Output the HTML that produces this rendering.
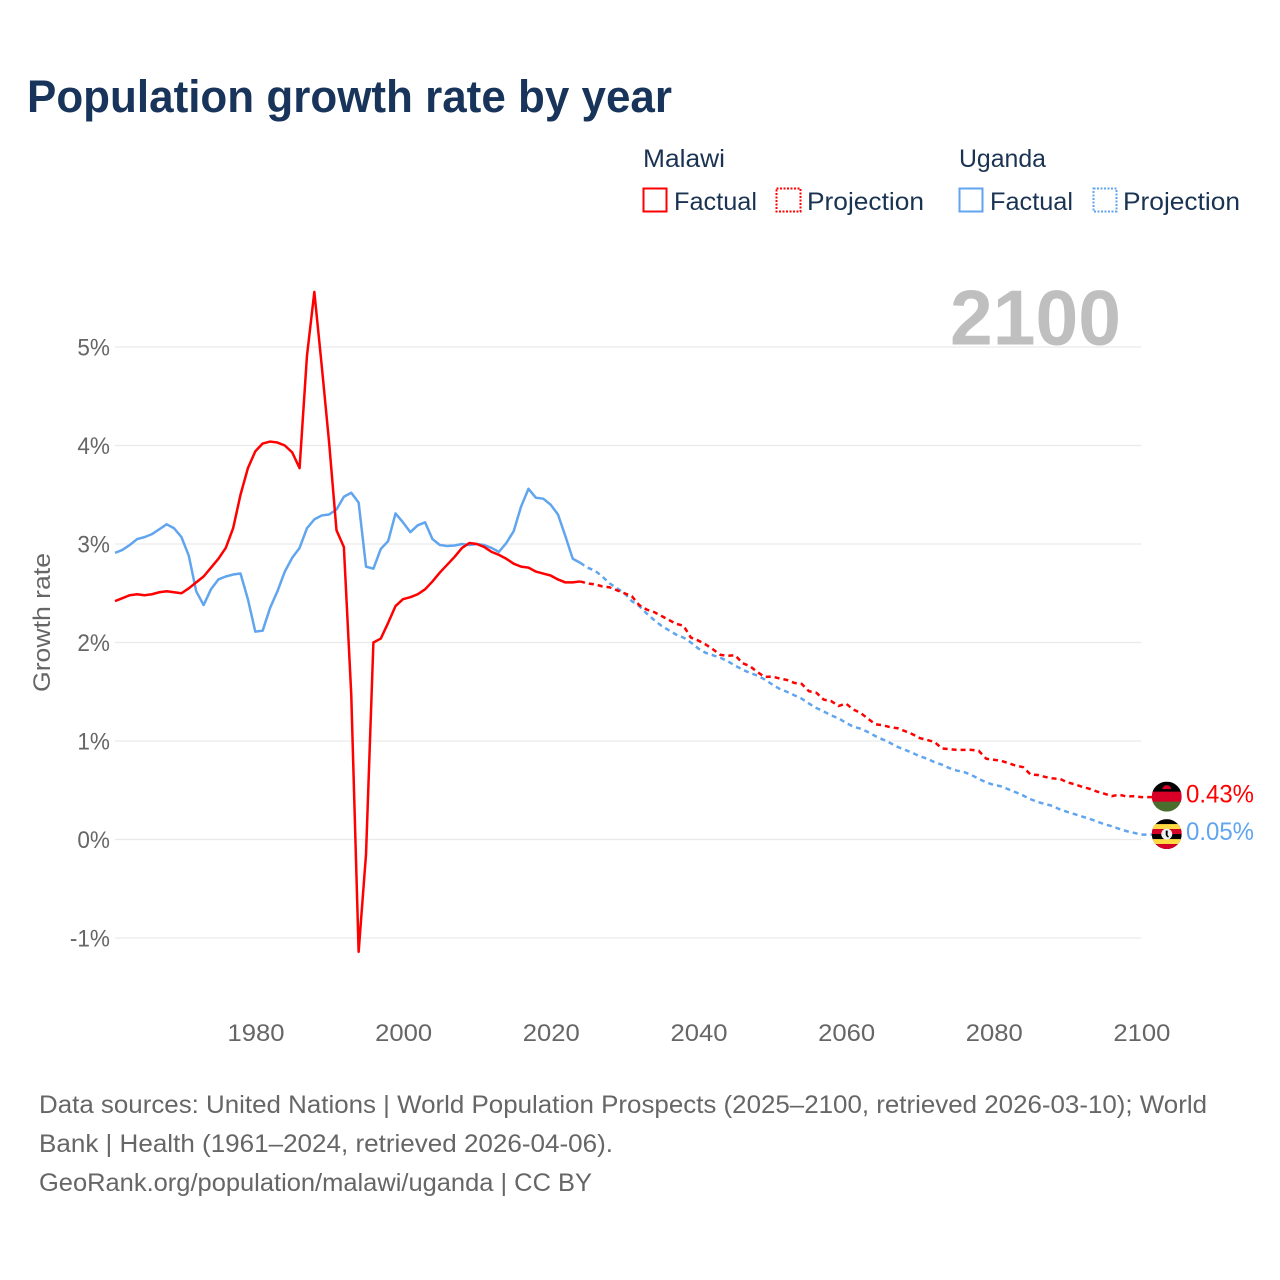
<!DOCTYPE html>
<html lang="en">
<head>
<meta charset="utf-8">
<title>Population growth rate by year</title>
<style>
  html, body { margin: 0; padding: 0; background: #fff; width: 1280px; height: 1280px; overflow: hidden; }
  svg { display: block; font-family: "Liberation Sans", sans-serif; }
</style>
</head>
<body>
<svg id="chart" width="1280" height="1280" viewBox="0 0 1280 1280">
  <defs>
    <clipPath id="flag-clip"><circle cx="0" cy="0" r="15"/></clipPath>
  </defs>
  <text x="27" y="112" font-size="45" font-weight="700" fill="#18345a" textLength="645" lengthAdjust="spacingAndGlyphs">Population growth rate by year</text>

  <g fill="#1a3352" font-size="25">
    <text x="643" y="167" textLength="82" lengthAdjust="spacingAndGlyphs">Malawi</text>
    <text x="959" y="167" textLength="87" lengthAdjust="spacingAndGlyphs">Uganda</text>
    <rect x="643.5" y="188.5" width="23" height="23" fill="none" stroke="#ff0000" stroke-width="2"/>
    <text x="674" y="210" textLength="83" lengthAdjust="spacingAndGlyphs">Factual</text>
    <rect x="776.5" y="188.5" width="24" height="23" fill="none" stroke="#ff0000" stroke-width="2" stroke-dasharray="2 1.5"/>
    <text x="807" y="210" textLength="117" lengthAdjust="spacingAndGlyphs">Projection</text>
    <rect x="959.5" y="188.5" width="23" height="23" fill="none" stroke="#60a5ee" stroke-width="2"/>
    <text x="990" y="210" textLength="83" lengthAdjust="spacingAndGlyphs">Factual</text>
    <rect x="1093.5" y="188.5" width="23" height="23" fill="none" stroke="#60a5ee" stroke-width="2" stroke-dasharray="2 1.5"/>
    <text x="1123" y="210" textLength="117" lengthAdjust="spacingAndGlyphs">Projection</text>
  </g>

  <g id="grid"></g>
  <g id="y-ticks" font-size="24.5" fill="#666666" text-anchor="end"></g>
  <g id="x-ticks" font-size="24" fill="#666666" text-anchor="middle"></g>

  <text x="0" y="0" transform="translate(50 622.5) rotate(-90)" text-anchor="middle" font-size="24" fill="#666666" textLength="139" lengthAdjust="spacingAndGlyphs">Growth rate</text>

  <text id="year-label" x="950" y="344.5" font-size="78" font-weight="700" fill="#bfbfbf" textLength="171" lengthAdjust="spacingAndGlyphs">2100</text>

  <g id="series"></g>

  <g id="flag-malawi" clip-path="url(#flag-clip)">
    <rect x="-15" y="-15" width="30" height="11" fill="#000000"/>
    <rect x="-15" y="-5" width="30" height="10.5" fill="#d80027"/>
    <rect x="-15" y="5" width="30" height="10" fill="#496e2d"/>
    <path d="M-4.5 -7.5 A4.5 4 0 0 1 4.5 -7.5 Z" fill="#d80027"/>
  </g>
  <g id="flag-uganda" clip-path="url(#flag-clip)">
    <rect x="-15" y="-15" width="30" height="30" fill="#000000"/>
    <rect x="-15" y="-10" width="30" height="5" fill="#ffda44"/>
    <rect x="-15" y="-5" width="30" height="5" fill="#d80027"/>
    <rect x="-15" y="5" width="30" height="5" fill="#ffda44"/>
    <rect x="-15" y="10" width="30" height="5" fill="#d80027"/>
    <circle cx="0" cy="0" r="5.5" fill="#f0f0f0"/>
    <path d="M-1 -3.5 L1 -3.5 L0.8 1 L2.5 3 L0.5 3.2 L-1 1 Z" fill="#000000"/>
  </g>
  <text id="end-label-malawi" x="1186" font-size="25" fill="#ff0000" textLength="68" lengthAdjust="spacingAndGlyphs"></text>
  <text id="end-label-uganda" x="1186" font-size="25" fill="#60a5ee" textLength="68" lengthAdjust="spacingAndGlyphs"></text>

  <g font-size="25" fill="#666666">
    <text x="39" y="1113" textLength="1168" lengthAdjust="spacingAndGlyphs">Data sources: United Nations | World Population Prospects (2025–2100, retrieved 2026-03-10); World</text>
    <text x="39" y="1152" textLength="574" lengthAdjust="spacingAndGlyphs">Bank | Health (1961–2024, retrieved 2026-04-06).</text>
    <text x="39" y="1191" textLength="553" lengthAdjust="spacingAndGlyphs">GeoRank.org/population/malawi/uganda | CC BY</text>
  </g>
</svg>

<script>
const firstFactualYear = 1961;
const firstProjectionYear = 2025;
const yTickValues = [-1, 0, 1, 2, 3, 4, 5];
const yTickLabels = ["-1%", "0%", "1%", "2%", "3%", "4%", "5%"];
const xTickYears = [1980, 2000, 2020, 2040, 2060, 2080, 2100];

const malawiFactual = [
  2.42,2.45,2.48,2.49,2.48,2.49,2.51,2.52,2.51,2.50,
  2.55,2.61,2.67,2.76,2.85,2.96,3.16,3.50,3.77,3.94,
  4.02,4.04,4.03,4.00,3.93,3.77,4.91,5.56,4.81,4.03,
  3.14,2.97,1.47,-1.14,-0.15,2.00,2.04,2.20,2.37,2.44,
  2.46,2.49,2.54,2.62,2.71,2.79,2.87,2.96,3.01,3.00,
  2.97,2.92,2.89,2.85,2.80,2.77,2.76,2.72,2.70,2.68,
  2.64,2.61,2.61,2.62
];
const ugandaFactual = [
  2.91,2.94,2.99,3.05,3.07,3.10,3.15,3.20,3.16,3.07,
  2.88,2.52,2.38,2.54,2.64,2.67,2.69,2.70,2.44,2.11,
  2.12,2.35,2.52,2.72,2.86,2.96,3.16,3.25,3.29,3.30,
  3.35,3.48,3.52,3.42,2.77,2.75,2.95,3.03,3.31,3.22,
  3.12,3.19,3.22,3.05,2.99,2.98,2.985,3.00,2.99,3.00,
  2.99,2.96,2.92,3.01,3.13,3.38,3.56,3.47,3.46,3.40,
  3.30,3.08,2.85,2.81
];
const malawiProjection = [
  2.60,2.59,2.57,2.56,2.53,2.50,2.47,2.38,2.335,2.31,
  2.27,2.23,2.19,2.17,2.05,2.02,1.98,1.93,1.875,1.865,
  1.87,1.79,1.76,1.70,1.65,1.655,1.635,1.62,1.59,1.58,
  1.505,1.49,1.42,1.405,1.355,1.38,1.32,1.285,1.225,1.17,
  1.16,1.14,1.13,1.10,1.07,1.03,1.01,0.99,0.925,0.917,
  0.91,0.91,0.91,0.90,0.82,0.81,0.80,0.775,0.75,0.735,
  0.66,0.655,0.635,0.62,0.615,0.58,0.56,0.535,0.515,0.487,
  0.465,0.44,0.455,0.437,0.44,0.43
];
const ugandaProjection = [
  2.76,2.73,2.67,2.60,2.55,2.50,2.42,2.37,2.295,2.23,
  2.17,2.125,2.08,2.05,2.00,1.94,1.895,1.87,1.845,1.81,
  1.765,1.725,1.69,1.665,1.625,1.575,1.53,1.50,1.465,1.43,
  1.38,1.335,1.30,1.26,1.23,1.185,1.145,1.125,1.09,1.05,
  1.015,0.98,0.94,0.91,0.88,0.845,0.82,0.785,0.76,0.725,
  0.70,0.685,0.655,0.615,0.58,0.555,0.54,0.51,0.48,0.447,
  0.41,0.38,0.36,0.34,0.305,0.28,0.257,0.233,0.21,0.183,
  0.155,0.135,0.108,0.085,0.068,0.05
];

const SVG_NS = "http://www.w3.org/2000/svg";
const RED = "#ff0000";
const BLUE = "#60a5ee";

function xScale(year) { return 115 + (year - 1961) * 7.383; }
function yScale(value) { return 839.5 - value * 98.5; }
function make(tag, attrs, parent) {
  const el = document.createElementNS(SVG_NS, tag);
  Object.keys(attrs).forEach(function (k) { el.setAttribute(k, attrs[k]); });
  parent.appendChild(el);
  return el;
}
function points(values, startYear) {
  return values.map(function (v, i) { return [xScale(startYear + i), yScale(v)]; });
}
function pathFrom(pts) {
  return pts.map(function (p, i) { return (i ? "L" : "M") + p[0].toFixed(2) + " " + p[1].toFixed(2); }).join("");
}

const gridGroup = document.getElementById("grid");
const yTickGroup = document.getElementById("y-ticks");
const xTickGroup = document.getElementById("x-ticks");
const seriesGroup = document.getElementById("series");

yTickValues.forEach(function (v, i) {
  const line = make("line", { x1: xScale(1961), x2: xScale(2100), y1: yScale(v), y2: yScale(v), stroke: "#e9e9e9", "stroke-width": 1.2 }, gridGroup);
  
  
  const label = make("text", { x: 110, y: yScale(v) + 8.5 }, yTickGroup);
  label.textContent = yTickLabels[i];
  
  
  label.setAttribute("textLength", (label.getComputedTextLength() * 0.92).toFixed(1));
  label.setAttribute("lengthAdjust", "spacingAndGlyphs");
});

xTickYears.forEach(function (year) {
  const label = make("text", { x: xScale(year) + 0.7, y: 1041, textLength: 57, lengthAdjust: "spacingAndGlyphs" }, xTickGroup);
  label.textContent = String(year);
  
  
});

function drawCountry(factual, projection, color) {
  const factualPts = points(factual, firstFactualYear);
  const projPts = points(projection, firstProjectionYear);
  const lastFactual = factualPts[factualPts.length - 1];
  const lastProj = projPts[projPts.length - 1];
  const solid = make("path", { d: pathFrom(factualPts), fill: "none", stroke: color, "stroke-width": 2.5, "stroke-linejoin": "round" }, seriesGroup);
  
  
  const dashedPts = [lastFactual].concat(projPts, [[lastProj[0] + 25, lastProj[1]]]);
  const dashed = make("path", { d: pathFrom(dashedPts), fill: "none", stroke: color, "stroke-width": 2.5, "stroke-dasharray": "5 4" }, seriesGroup);
  
  
}
drawCountry(ugandaFactual, ugandaProjection, BLUE);
drawCountry(malawiFactual, malawiProjection, RED);

function placeEnd(flagId, labelId, projection) {
  const v = projection[projection.length - 1];
  const flag = document.getElementById(flagId);
  flag.setAttribute("transform", "translate(" + (xScale(2100) + 25.5) + " " + (yScale(v) - 0.5) + ")");
  const label = document.getElementById(labelId);
  label.setAttribute("y", yScale(v) + 5.5);
  label.textContent = v.toFixed(2) + "%";
}
placeEnd("flag-malawi", "end-label-malawi", malawiProjection);
placeEnd("flag-uganda", "end-label-uganda", ugandaProjection);
</script>
</body>
</html>
